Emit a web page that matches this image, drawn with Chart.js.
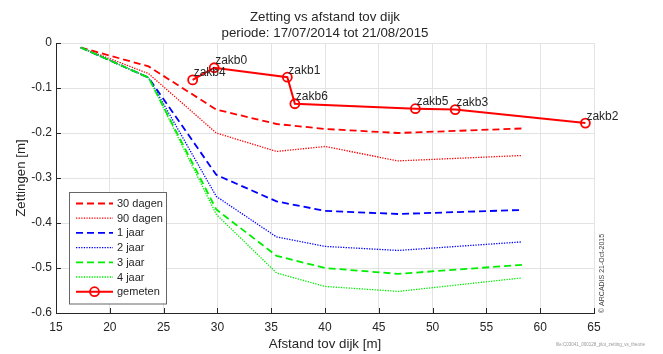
<!DOCTYPE html>
<html>
<head>
<meta charset="utf-8">
<script src="https://cdn.jsdelivr.net/npm/chart.js@4.4.0/dist/chart.umd.min.js"></script>
<style>
  html, body { margin: 0; padding: 0; background: #fff; }
  #wrap { width: 663px; height: 354px; }
</style>
</head>
<body>
<div id="wrap"><canvas id="zettingChart" width="663" height="354"></canvas></div>
<script>
// theoretische zetting, afstand tov dijk [m]
const theoryX = [17.3, 23.6, 29.9, 35.5, 40.0, 46.8, 58.3];
const dagen30 = [-0.010, -0.052, -0.148, -0.180, -0.191, -0.200, -0.190];
const dagen90 = [-0.010, -0.068, -0.200, -0.241, -0.230, -0.262, -0.250];
const jaar1   = [-0.010, -0.077, -0.293, -0.352, -0.373, -0.380, -0.371];
const jaar2   = [-0.010, -0.077, -0.341, -0.431, -0.452, -0.461, -0.442];
const jaar3   = [-0.010, -0.077, -0.370, -0.473, -0.500, -0.513, -0.493];
const jaar4   = [-0.010, -0.077, -0.381, -0.511, -0.541, -0.552, -0.522];

// gemeten zakbaken
const gemLabels = ['zakb4', 'zakb0', 'zakb1', 'zakb6', 'zakb5', 'zakb3', 'zakb2'];
const gemX = [27.7, 29.7, 36.5, 37.2, 48.4, 52.1, 64.2];
const gemY = [-0.082, -0.055, -0.076, -0.135, -0.146, -0.148, -0.178];

const xTicks = [15, 65, 5];      // min, max, step
const yTicks = [-0.6, 0, 0.1];

const titleLines = ['Zetting vs afstand tov dijk', 'periode: 17/07/2014 tot 21/08/2015'];

const FONT = '"Liberation Sans", Arial, Helvetica, sans-serif';
const AXIS_COLOR = '#262626';

function xy(xs, ys) {
    return xs.map((x, i) => ({ x: x, y: ys[i] }));
}

function theoryLine(label, ys, color, dashed, order) {
    return {
        label: label,
        data: xy(theoryX, ys),
        borderColor: color,
        borderWidth: dashed ? 1.8 : 1.3,
        borderDash: dashed ? [7, 4] : [1.3, 1.3],
        pointRadius: 0,
        showLine: true,
        order: order
    };
}

const datasets = [
    theoryLine('30 dagen', dagen30, '#ff0000', true, 6),
    theoryLine('90 dagen', dagen90, '#ff0000', false, 5),
    theoryLine('1 jaar', jaar1, '#0000ff', true, 4),
    theoryLine('2 jaar', jaar2, '#0000ff', false, 3),
    theoryLine('3 jaar', jaar3, '#00ee00', true, 2),
    theoryLine('4 jaar', jaar4, '#00ee00', false, 1),
    {
        label: 'gemeten',
        data: xy(gemX, gemY),
        borderColor: '#ff0000',
        borderWidth: 2,
        pointRadius: 4.5,
        pointBorderWidth: 1.8,
        pointBorderColor: '#ff0000',
        pointBackgroundColor: 'rgba(0,0,0,0)',
        showLine: true,
        order: 0
    }
];

// titel, legenda, labels en tekstjes erbij
const extras = {
    id: 'extras',
    afterDatasetsDraw(chart) {
        const ctx = chart.ctx;
        const meta = chart.getDatasetMeta(6);
        ctx.save();
        ctx.font = '12px ' + FONT;
        ctx.fillStyle = AXIS_COLOR;
        ctx.textAlign = 'left';
        ctx.textBaseline = 'alphabetic';
        meta.data.forEach((pt, i) => {
            ctx.fillText(gemLabels[i], pt.x + 1, pt.y - 3.5);
        });
        ctx.restore();
    },
    afterDraw(chart) {
        const ctx = chart.ctx;
        const ca = chart.chartArea;
        const xs = chart.scales.x, ys = chart.scales.y;
        ctx.save();

        // ticks aan de binnenkant
        ctx.strokeStyle = AXIS_COLOR;
        ctx.lineWidth = 1;
        ctx.beginPath();
        for (let v = xTicks[0]; v <= xTicks[1]; v += xTicks[2]) {
            const px = Math.round(xs.getPixelForValue(v)) + 0.5;
            ctx.moveTo(px, ca.bottom);
            ctx.lineTo(px, ca.bottom - 5);
        }
        for (let k = 0; k <= 6; k++) {
            const py = Math.round(ys.getPixelForValue(yTicks[0] + k * yTicks[2])) + 0.5;
            ctx.moveTo(ca.left, py);
            ctx.lineTo(ca.left + 5, py);
        }
        ctx.stroke();

        // titel
        ctx.fillStyle = AXIS_COLOR;
        ctx.font = '13.3px ' + FONT;
        ctx.textAlign = 'center';
        ctx.textBaseline = 'middle';
        const cx = (ca.left + ca.right) / 2;
        ctx.fillText(titleLines[0], cx, 17);
        ctx.fillText(titleLines[1], cx, 33);

        // legenda
        const lx = ca.left + 13, ly = ca.bottom - 121.5, lw = 97, lh = 111.5;
        ctx.fillStyle = '#ffffff';
        ctx.fillRect(lx, ly, lw, lh);
        ctx.strokeStyle = '#666666';
        ctx.lineWidth = 1;
        ctx.setLineDash([]);
        ctx.strokeRect(Math.round(lx) + 0.5, Math.round(ly) + 0.5, lw, lh);
        chart.data.datasets.forEach((ds, i) => {
            const ry = ly + 12 + i * 14.7;
            ctx.strokeStyle = ds.borderColor;
            ctx.lineWidth = ds.borderWidth;
            ctx.setLineDash(ds.borderDash || []);
            ctx.beginPath();
            ctx.moveTo(lx + 7, ry);
            ctx.lineTo(lx + 44, ry);
            ctx.stroke();
            if (ds.pointRadius > 0) {
                ctx.setLineDash([]);
                ctx.lineWidth = ds.pointBorderWidth;
                ctx.beginPath();
                ctx.arc(lx + 25.5, ry, ds.pointRadius, 0, Math.PI * 2);
                ctx.stroke();
            }
            ctx.setLineDash([]);
            ctx.fillStyle = AXIS_COLOR;
            ctx.font = '11px ' + FONT;
            ctx.textAlign = 'left';
            ctx.fillText(ds.label, lx + 48, ry + 0.5);
        });

        // copyright
        ctx.save();
        ctx.translate(ca.right + 8, ca.bottom);
        ctx.rotate(-Math.PI / 2);
        ctx.font = '7px ' + FONT;
        ctx.fillStyle = '#444444';
        ctx.textAlign = 'left';
        ctx.textBaseline = 'middle';
        ctx.fillText('\u00A9 ARCADIS 21-Oct-2015', 0, 0);
        ctx.restore();

        ctx.font = '4.5px ' + FONT;
        ctx.fillStyle = '#999999';
        ctx.textAlign = 'left';
        ctx.textBaseline = 'middle';
        ctx.fillText('file:C03041_000128_plot_zetting_vs_theorie', 556, 345);

        ctx.restore();
    }
};

new Chart(document.getElementById('zettingChart'), {
    type: 'scatter',
    data: { datasets: datasets },
    plugins: [extras],
    options: {
        responsive: false,
        animation: false,
        devicePixelRatio: 1,
        layout: { padding: { left: 0, right: 69, top: 43, bottom: 0 } },
        plugins: {
            legend: { display: false },
            tooltip: { enabled: false },
            title: { display: false }
        },
        scales: {
            x: {
                type: 'linear',
                min: xTicks[0],
                max: xTicks[1],
                ticks: { stepSize: xTicks[2], color: AXIS_COLOR, font: { family: FONT, size: 12 }, padding: 7 },
                grid: { color: '#e3e3e3', drawTicks: false },
                border: { color: AXIS_COLOR, width: 1 },
                title: { display: true, text: 'Afstand tov dijk [m]', color: AXIS_COLOR,
                         font: { family: FONT, size: 13.3 }, padding: { top: 0, bottom: 2 } },
                afterFit: s => { s.height = 41; }
            },
            y: {
                min: yTicks[0],
                max: yTicks[1],
                ticks: {
                    stepSize: yTicks[2], color: AXIS_COLOR, font: { family: FONT, size: 12 }, padding: 4,
                    callback: v => Math.abs(v) < 1e-9 ? '0' : v.toFixed(1)
                },
                grid: { color: '#e3e3e3', drawTicks: false },
                border: { color: AXIS_COLOR, width: 1 },
                title: { display: true, text: 'Zettingen [m]', color: AXIS_COLOR,
                         font: { family: FONT, size: 13.3 }, padding: { top: 13, bottom: 0 } },
                afterFit: s => { s.width = 56; }
            }
        }
    }
});
</script>
</body>
</html>
